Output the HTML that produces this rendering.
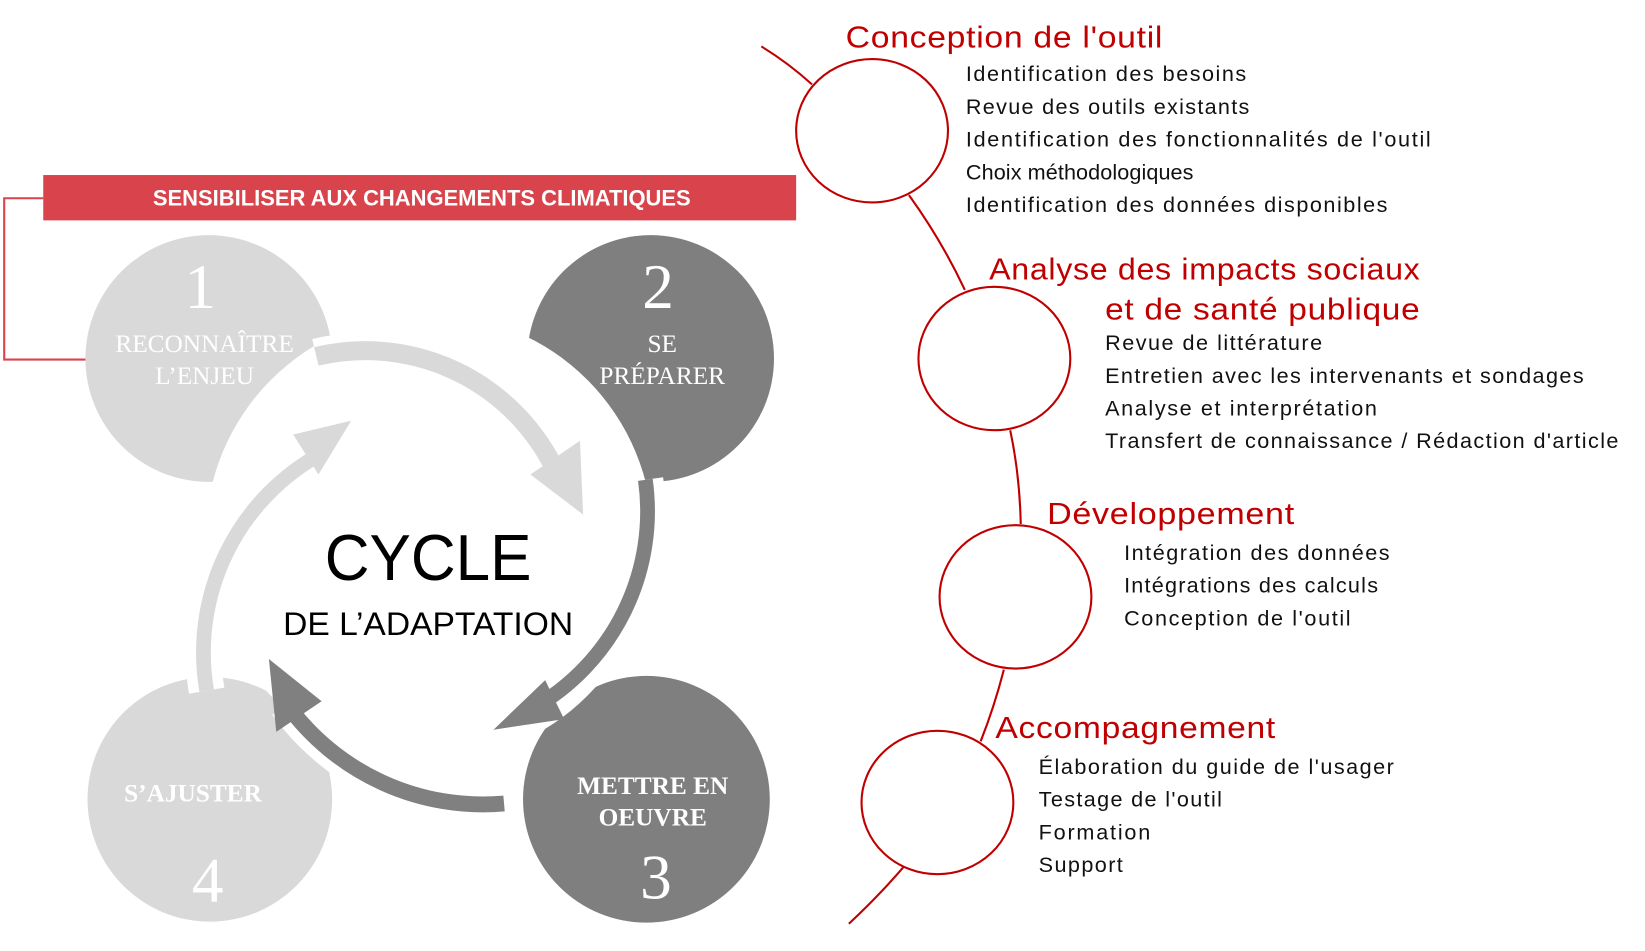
<!DOCTYPE html>
<html><head><meta charset="utf-8"><style>
html,body{margin:0;padding:0;background:#fff;width:1645px;height:951px;overflow:hidden}
#w{position:absolute;left:0;top:0;width:1560px;height:902px;transform:scale(1.05449);transform-origin:0 0}
svg{position:absolute;left:0;top:0}
.h{font-family:"Liberation Sans",sans-serif;fill:#c00000;font-size:29px;letter-spacing:0.6px}
.t{font-family:"Liberation Sans",sans-serif;fill:#111;font-size:20.5px;letter-spacing:1.2px}
.s{font-family:"Liberation Serif",serif;fill:#fff;text-anchor:middle}
</style></head><body><div id="w">
<svg width="1560" height="902" viewBox="0 0 1560 902">
<polyline points="41,188 4,188 4,341 87,341" fill="none" stroke="#d9444c" stroke-width="2"/>
<circle cx="198" cy="340" r="117" fill="#d9d9d9"/>
<circle cx="617" cy="340" r="117" fill="#7f7f7f"/>
<circle cx="613" cy="758" r="117" fill="#7f7f7f"/>
<circle cx="199" cy="758" r="116" fill="#d9d9d9"/>
<circle cx="407" cy="510" r="212" fill="#fff"/>
<rect x="41" y="166" width="714" height="43" fill="#d9444c"/>
<text x="400" y="195" text-anchor="middle" font-family="Liberation Sans,sans-serif" font-weight="bold" font-size="21" fill="#fff" textLength="510" lengthAdjust="spacingAndGlyphs">SENSIBILISER AUX CHANGEMENTS CLIMATIQUES</text>
<!-- arrows with white halos -->
<g fill="none" stroke="#fff" stroke-width="34">
<path d="M300 338 A 200 200 0 0 1 532 458"/>
<path d="M612 455 A 215 215 0 0 1 505 672"/>
<path d="M478 762 A 230 230 0 0 1 272 668"/>
<path d="M196 655 A 215 215 0 0 1 305 430"/>
</g>
<path d="M300 338 A 200 200 0 0 1 532 458" fill="none" stroke="#d9d9d9" stroke-width="18"/>
<polygon points="553,488 503,450 550,418" fill="#d9d9d9"/>
<path d="M612 455 A 215 215 0 0 1 505 672" fill="none" stroke="#808080" stroke-width="14"/>
<polygon points="468,692 517,645 535,682" fill="#808080"/>
<path d="M478 762 A 230 230 0 0 1 272 668" fill="none" stroke="#808080" stroke-width="15"/>
<polygon points="255,625 305,665 262,694" fill="#808080"/>
<path d="M196 655 A 215 215 0 0 1 305 430" fill="none" stroke="#d9d9d9" stroke-width="14"/>
<polygon points="333,399 278,412 302,450" fill="#d9d9d9"/>
<text x="406" y="550" text-anchor="middle" font-family="Liberation Sans,sans-serif" font-size="62" fill="#000" textLength="196" lengthAdjust="spacingAndGlyphs">CYCLE</text>
<text x="406" y="602" text-anchor="middle" font-family="Liberation Sans,sans-serif" font-size="31" fill="#000" textLength="275" lengthAdjust="spacingAndGlyphs">DE L’ADAPTATION</text>
<text class="s" x="190" y="292" font-size="60">1</text>
<text class="s" x="194" y="334" font-size="24">RECONNAÎTRE</text>
<text class="s" x="194" y="364" font-size="24">L’ENJEU</text>
<text class="s" x="624" y="292" font-size="60">2</text>
<text class="s" x="628" y="334" font-size="24">SE</text>
<text class="s" x="628" y="364" font-size="24">PRÉPARER</text>
<text class="s" x="619" y="753" font-size="24" font-weight="bold">METTRE EN</text>
<text class="s" x="619" y="783" font-size="24" font-weight="bold">OEUVRE</text>
<text class="s" x="622" y="852" font-size="60">3</text>
<text class="s" x="183" y="760" font-size="24" font-weight="bold">S’AJUSTER</text>
<text class="s" x="197" y="855" font-size="60">4</text>
<g fill="none" stroke="#c00000" stroke-width="2">
<path d="M722 44 Q748 60 770 80"/>
<path d="M862 185 Q893 228 915 275"/>
<path d="M958 408 Q967 450 968 497"/>
<path d="M952 635 Q943 670 930 703"/>
<path d="M857 822 Q833 850 805 876"/>
<ellipse cx="827" cy="124" rx="72" ry="68" fill="#fff"/>
<ellipse cx="943" cy="340" rx="72" ry="68" fill="#fff"/>
<ellipse cx="963" cy="566" rx="72" ry="68" fill="#fff"/>
<ellipse cx="889" cy="761" rx="72" ry="68" fill="#fff"/>
</g>
<text class="h" x="802" y="45" textLength="301" lengthAdjust="spacingAndGlyphs">Conception de l'outil</text>
<text class="t" x="916" y="77" textLength="267">Identification des besoins</text>
<text class="t" x="916" y="108" textLength="270">Revue des outils existants</text>
<text class="t" x="916" y="139" textLength="442">Identification des fonctionnalités de l'outil</text>
<text class="t" x="916" y="170" textLength="217">Choix méthodologiques</text>
<text class="t" x="916" y="201" textLength="401">Identification des données disponibles</text>
<text class="h" x="938" y="265" textLength="409" lengthAdjust="spacingAndGlyphs">Analyse des impacts sociaux</text>
<text class="h" x="1048" y="303" textLength="299" lengthAdjust="spacingAndGlyphs">et de santé publique</text>
<text class="t" x="1048" y="332" textLength="207">Revue de littérature</text>
<text class="t" x="1048" y="363" textLength="455">Entretien avec les intervenants et sondages</text>
<text class="t" x="1048" y="394" textLength="259">Analyse et interprétation</text>
<text class="t" x="1048" y="425" textLength="488">Transfert de connaissance / Rédaction d'article</text>
<text class="h" x="993" y="497" textLength="235" lengthAdjust="spacingAndGlyphs">Développement</text>
<text class="t" x="1066" y="531" textLength="253">Intégration des données</text>
<text class="t" x="1066" y="562" textLength="242">Intégrations des calculs</text>
<text class="t" x="1066" y="593" textLength="216">Conception de l'outil</text>
<text class="h" x="944" y="700" textLength="266" lengthAdjust="spacingAndGlyphs">Accompagnement</text>
<text class="t" x="985" y="734" textLength="338">Élaboration du guide de l'usager</text>
<text class="t" x="985" y="765" textLength="175">Testage de l'outil</text>
<text class="t" x="985" y="796" textLength="107">Formation</text>
<text class="t" x="985" y="827" textLength="81">Support</text>
</svg>
</div></body></html>
